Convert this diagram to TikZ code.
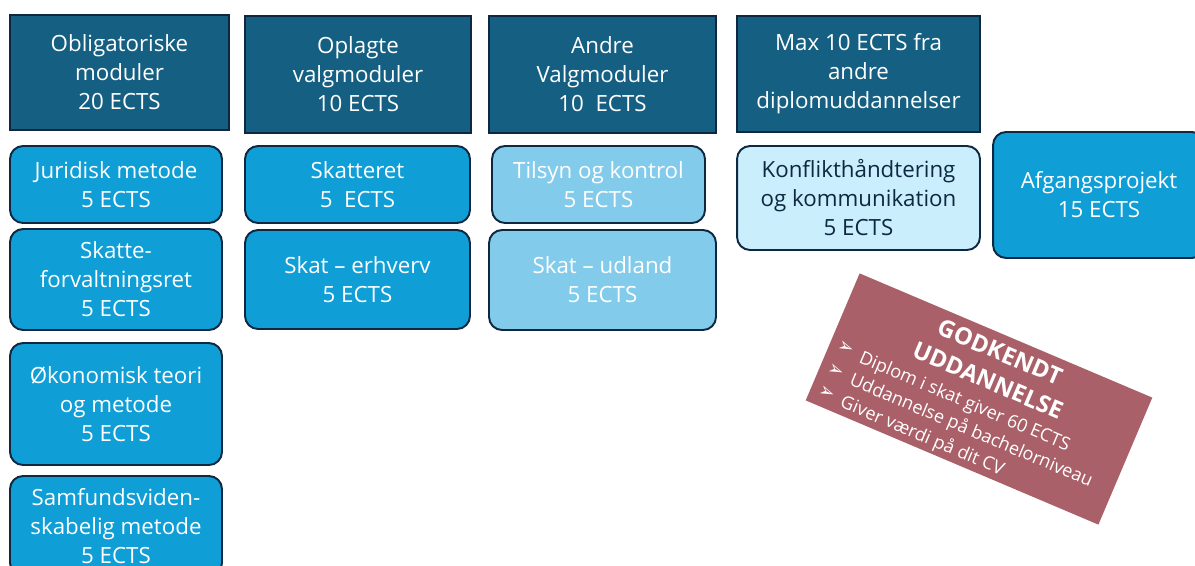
\documentclass[tikz,border=0pt]{standalone}
\usepackage{fontspec}
\setmainfont{Open Sans}
\newfontfamily\pilfont{DejaVu Sans}
\usepackage{xcolor}
\definecolor{Hoved}{HTML}{156082}
\definecolor{Modul}{HTML}{0F9ED5}
\definecolor{LysModul}{HTML}{83CBEB}
\definecolor{Ekstern}{HTML}{CAEEFB}
\definecolor{Kant}{HTML}{0E2841}
\definecolor{Godkendt}{HTML}{AA6068}
\newcommand{\pil}{{\pilfont\raisebox{0.3ex}{\fontsize{11}{11}\selectfont ➢}}\hspace{5pt}}

\begin{document}
\begin{tikzpicture}[x=0.02cm, y=-0.02cm,
      every node/.append style={align=center, inner sep=0pt, font=\fontsize{12.7}{16.5}\selectfont},
      hoved/.style={draw=Kant, line width=1.1pt, fill=Hoved, text=white},
      modul/.style={draw=Kant, line width=1.1pt, fill=Modul, text=white, rounded corners=0.26cm},
      lysmodul/.style={modul, fill=LysModul},
      ekstern/.style={modul, fill=Ekstern, text=Kant}]
    \useasboundingbox (0,0) rectangle (1195,565);
    \clip (0,0) rectangle (1195,565);
    % overskrifter
    \node (obligatorisk) [hoved, minimum width=4.38cm, minimum height=2.30cm] at (119.5,72.5) {Obligatoriske\\moduler\\20 ECTS};
    \node (oplagte) [hoved, minimum width=4.52cm, minimum height=2.34cm] at (358,74.5) {Oplagte\\valgmoduler\\10 ECTS};
    \node (andre) [hoved, minimum width=4.54cm, minimum height=2.34cm] at (602.5,74.5) {Andre\\Valgmoduler\\10~~ECTS};
    \node (diplom) [hoved, minimum width=4.86cm, minimum height=2.32cm] at (858.5,74) {Max 10 ECTS fra\\andre\\diplomuddannelser};
    % moduler
    \node (juridisk) [modul, minimum width=4.24cm, minimum height=1.54cm] at (116,184.5) {Juridisk metode\\5 ECTS};
    \node (forvaltning) [modul, minimum width=4.24cm, minimum height=2.02cm] at (116,279.5) {Skatte-\\forvaltningsret\\5 ECTS};
    \node (oekonomi) [modul, minimum width=4.24cm, minimum height=2.44cm] at (116,404) {Økonomisk teori\\og metode\\5 ECTS};
    \node (samfund) [modul, minimum width=4.24cm, minimum height=2.00cm] at (116,526) {Samfundsviden-\\skabelig metode\\5 ECTS};
    \node (skatteret) [modul, minimum width=4.50cm, minimum height=1.54cm] at (357.5,184.5) {Skatteret\\5~~ECTS};
    \node (erhverv) [modul, minimum width=4.50cm, minimum height=1.98cm] at (357.5,279.5) {Skat -- erhverv\\5 ECTS};
    \node (tilsyn) [lysmodul, minimum width=4.26cm, minimum height=1.54cm] at (598.5,184.5) {Tilsyn og kontrol\\5 ECTS};
    \node (udland) [lysmodul, minimum width=4.54cm, minimum height=2.00cm] at (602.5,280) {Skat -- udland\\5 ECTS};
    \node (konflikt) [ekstern, minimum width=4.86cm, minimum height=2.08cm] at (858.5,198) {Konflikthåndtering\\og kommunikation\\5 ECTS};
    \node (afgang) [modul, minimum width=4.24cm, minimum height=2.52cm] at (1099,195) {Afgangsprojekt\\15 ECTS};
    % godkendt
    \begin{scope}[shift={(979,399)}, rotate=-23, transform shape]
      \node (godkendt) [fill=Godkendt, minimum width=6.36cm, minimum height=2.76cm] at (0,0) {};
      \node (overskrift) [text=white, font=\fontsize{13.5}{17.6}\selectfont\bfseries] at (1,-36) {GODKENDT\\UDDANNELSE};
      \node (punkter) [text=white, anchor=west, align=left, font=\fontsize{10.3}{13.7}\selectfont] at (-151,33)
        {\pil Diplom i skat giver 60 ECTS\\\pil Uddannelse på bachelorniveau\\\pil Giver værdi på dit CV};
    \end{scope}
\end{tikzpicture}
\end{document}
